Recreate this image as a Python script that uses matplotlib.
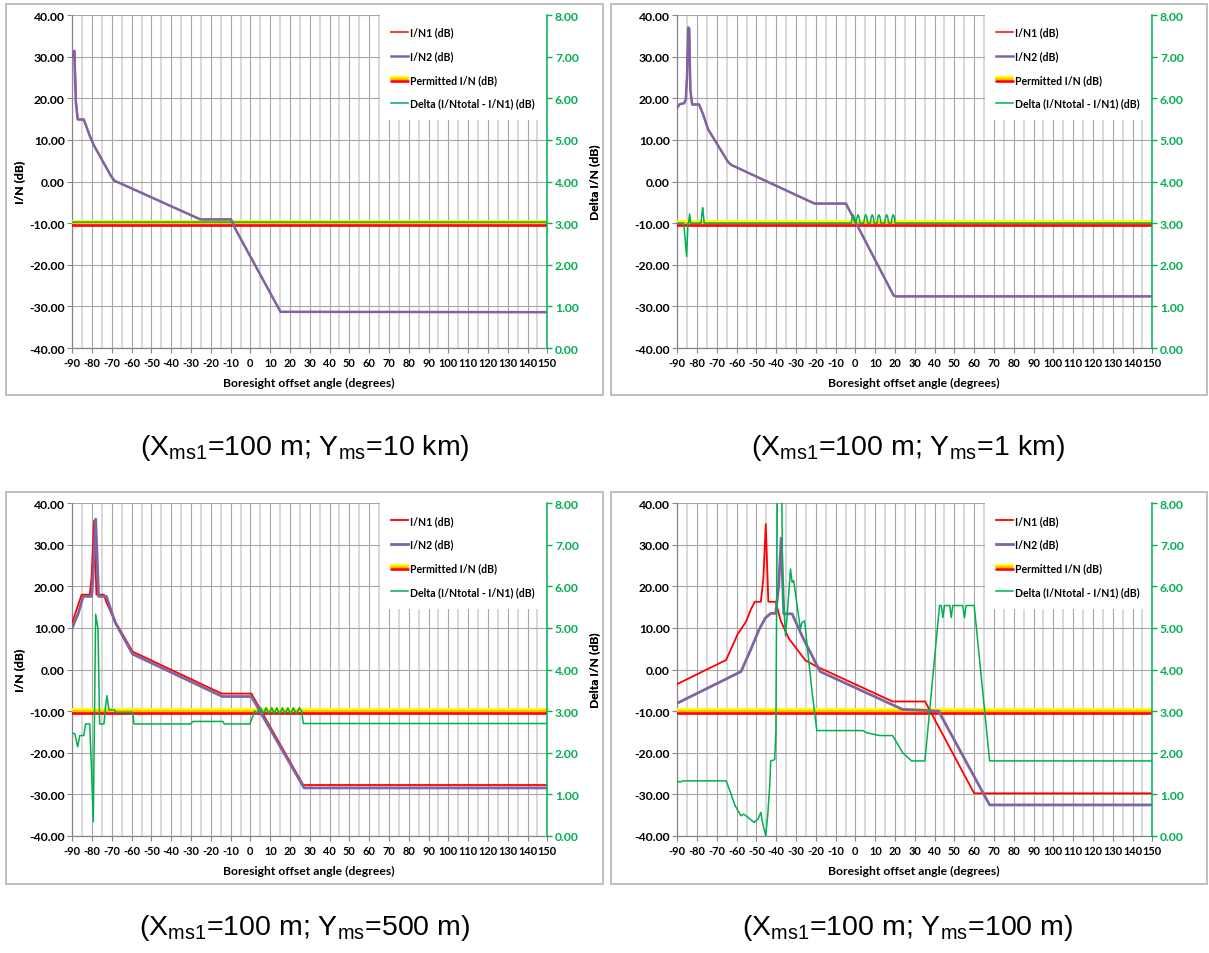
import matplotlib
matplotlib.use("Agg")
import matplotlib.pyplot as plt
from matplotlib.lines import Line2D
from matplotlib.legend_handler import HandlerBase
from matplotlib.patches import Rectangle

# ---------------- data ----------------
x_ticks = list(range(-90, 151, 10))
left_ticks = list(range(-40, 41, 10))
right_ticks = list(range(0, 9))
permitted_level = -10.0

captions = [
    r"(X$_{\mathregular{ms1}}$=100 m; Y$_{\mathregular{ms}}$=10 km)",
    r"(X$_{\mathregular{ms1}}$=100 m; Y$_{\mathregular{ms}}$=1 km)",
    r"(X$_{\mathregular{ms1}}$=100 m; Y$_{\mathregular{ms}}$=500 m)",
    r"(X$_{\mathregular{ms1}}$=100 m; Y$_{\mathregular{ms}}$=100 m)",
]

# Panel A : Yms = 10 km
a_n1 = [(-90, 30.0), (-88.8, 31.2), (-88.4, 26.0), (-88.0, 19.0), (-87.1, 14.9), (-84.2, 14.9),
        (-81.2, 11.0), (-79.0, 8.6), (-70.3, 1.2), (-68.7, 0.2), (-25.3, -9.1), (-9.8, -9.1),
        (-7.5, -11.5), (15.2, -31.3), (150, -31.4)]
a_n2 = [(-90, 30.2), (-89.0, 31.4), (-88.6, 24.0), (-88.2, 19.0), (-87.3, 14.9), (-84.2, 14.9),
        (-81.2, 11.0), (-79.0, 8.6), (-70.3, 1.2), (-68.7, 0.2), (-25.3, -9.1), (-9.8, -9.1),
        (-7.5, -11.5), (15.2, -31.3), (150, -31.4)]
a_delta = [(-90, 3.03), (150, 3.03)]

# Panel B : Yms = 1 km
b_n1 = [(-90, 17.8), (-88.7, 18.6), (-86.5, 18.8), (-85.7, 19.8), (-85.1, 26.0), (-84.4, 36.8),
        (-83.9, 36.6), (-83.3, 22.0), (-82.5, 18.5), (-79.0, 18.5), (-77.0, 16.2), (-74.5, 12.6),
        (-64.5, 4.8), (-62.8, 4.0), (-20.7, -5.3), (-4.8, -5.3), (19.3, -27.4), (20.5, -27.6),
        (150, -27.6)]
b_n2 = [(-90, 17.8), (-88.7, 18.6), (-86.5, 18.8), (-85.7, 19.8), (-85.1, 25.0), (-84.5, 37.0),
        (-84.0, 36.8), (-83.4, 22.0), (-82.5, 18.5), (-79.0, 18.5), (-77.0, 16.2), (-74.5, 12.6),
        (-64.5, 4.8), (-62.8, 4.0), (-20.7, -5.3), (-4.8, -5.3), (19.3, -27.4), (20.5, -27.6),
        (150, -27.6)]
b_delta = [(-90, 3.0), (-86.8, 3.0), (-86.0, 2.6), (-85.3, 2.2), (-84.6, 3.0), (-84.3, 3.0),
           (-83.8, 3.22), (-83.2, 3.0), (-78.0, 3.0), (-77.5, 3.25), (-77.2, 3.37), (-76.9, 3.25),
           (-76.4, 3.0), (-2.1, 3.0), (-1.6, 3.15), (-1.1, 3.2), (-0.6, 3.12), (-0.1, 3.0),
           (0.4, 3.05), (0.9, 3.15), (1.3, 3.2), (1.8, 3.15), (2.3, 3.0), (2.8, 3.0),
           (4.2, 3.0), (4.7, 3.15), (5.2, 3.2), (5.7, 3.15), (6.2, 3.0),
           (7.5, 3.0), (8.0, 3.15), (8.5, 3.2), (9.0, 3.15), (9.5, 3.0),
           (10.9, 3.0), (11.4, 3.15), (11.9, 3.2), (12.4, 3.15), (12.9, 3.0),
           (14.8, 3.0), (15.3, 3.15), (15.8, 3.2), (16.3, 3.15), (16.8, 3.0),
           (18.1, 3.0), (18.6, 3.15), (19.1, 3.2), (19.6, 3.15), (20.1, 3.0), (150, 3.0)]

# Panel C : Yms = 500 m
c_n1 = [(-90, 11.4), (-85.3, 18.0), (-81.2, 18.0), (-80.3, 22.0), (-79.0, 35.8), (-77.8, 18.0),
        (-74.0, 18.0), (-72.8, 16.2), (-68.3, 11.5), (-59.5, 4.3), (-14.5, -5.8), (0.5, -5.8),
        (26.7, -27.8), (150, -27.8)]
c_n2 = [(-90, 10.1), (-87.0, 13.5), (-84.5, 17.6), (-80.2, 17.6), (-79.3, 24.0), (-78.2, 36.2),
        (-76.7, 17.6), (-72.8, 17.6), (-68.3, 11.3), (-59.5, 3.7), (-14.2, -6.5), (0.5, -6.5),
        (27.1, -28.5), (150, -28.5)]
c_delta = [(-90, 2.47), (-88.7, 2.45), (-87.3, 2.14), (-86.2, 2.41), (-84.2, 2.41), (-83.3, 2.69),
           (-81.2, 2.69), (-80.3, 1.6), (-79.4, 0.34), (-78.2, 5.33), (-77.0, 4.97), (-76.2, 2.69),
           (-74.0, 2.69), (-73.2, 3.1), (-72.5, 3.37), (-71.5, 3.03), (-68.7, 3.03), (-68.0, 2.97),
           (-59.5, 2.97), (-58.8, 2.69), (-30.3, 2.69), (-29.0, 2.75), (-14.0, 2.75), (-13.2, 2.69),
           (-0.3, 2.69), (1.3, 2.89), (2.2, 3.0), (3.2, 2.95), (4.0, 3.0), (5.2, 3.08), (6.5, 2.93),
           (7.9, 3.08), (9.3, 2.93), (10.8, 3.08), (12.0, 2.93), (13.3, 3.08), (14.7, 2.93),
           (16.1, 3.08), (17.5, 2.93), (18.9, 3.08), (20.3, 2.93), (21.7, 3.08), (23.2, 2.93),
           (24.7, 3.08), (25.9, 3.0), (26.7, 2.70), (150, 2.70)]

# Panel D : Yms = 100 m
d_n1 = [(-90, -3.5), (-65.3, 2.3), (-62.8, 5.0), (-59.5, 8.5), (-55.3, 11.5), (-52.8, 14.5),
        (-50.8, 16.3), (-47.8, 16.3), (-46.5, 22.0), (-45.3, 35.0), (-44.0, 16.3), (-40.3, 16.3),
        (-37.8, 11.8), (-33.7, 7.5), (-25.3, 2.2), (-19.5, 0.7), (18.8, -7.7), (35.2, -7.7),
        (60.0, -29.8), (150, -29.8)]
d_n2 = [(-90, -8.1), (-57.8, -0.5), (-52.8, 4.9), (-48.7, 9.6), (-45.5, 12.4), (-42.8, 13.5),
        (-40.3, 13.5), (-38.8, 20.0), (-37.5, 31.6), (-36.2, 13.4), (-32.0, 13.4), (-26.2, 7.3),
        (-17.8, -0.5), (23.8, -9.6), (42.0, -10.0), (67.8, -32.6), (150, -32.6)]
d_delta = [(-90, 1.31), (-88.5, 1.29), (-87.3, 1.32), (-65.3, 1.32), (-62.8, 1.0), (-60.8, 0.72),
           (-57.8, 0.48), (-56.5, 0.52), (-54.8, 0.46), (-51.2, 0.32), (-49.2, 0.4), (-47.8, 0.56),
           (-46.8, 0.28), (-45.3, 0.0), (-44.3, 0.5), (-43.3, 1.2), (-42.8, 1.8), (-40.8, 1.83),
           (-40.2, 2.5), (-39.3, 9.5), (-37.5, 9.8), (-36.8, 6.0), (-35.3, 4.81), (-34.5, 5.3),
           (-32.8, 6.42), (-32.0, 6.1), (-31.2, 6.14), (-27.8, 4.97), (-27.0, 5.13), (-25.7, 5.17),
           (-22.0, 3.5), (-19.5, 2.53), (3.8, 2.53), (5.5, 2.48), (12.2, 2.41), (18.8, 2.41),
           (23.8, 2.0), (28.4, 1.8), (35.1, 1.8), (42.5, 5.54), (43.4, 5.54), (44.2, 5.25),
           (45.0, 5.54), (47.7, 5.54), (48.4, 5.25), (49.2, 5.54), (54.2, 5.54), (55.1, 5.25),
           (55.9, 5.54), (60.0, 5.54), (67.8, 1.8), (150, 1.8)]

panels = [(a_n1, a_n2, a_delta), (b_n1, b_n2, b_delta), (c_n1, c_n2, c_delta), (d_n1, d_n2, d_delta)]

# ---------------- styling ----------------
W, H = 1209, 954
FONT = "Lato"
RED = "#ff0000"
PURPLE = "#8064a2"
GREEN = "#00b050"
GRID_MAJ = "#a6a6a6"
GRID_MIN = "#d9d9d9"
AXCOL = "#868686"
FS = 8.7
FSX = 7.9

plt.rcParams["mathtext.fontset"] = "custom"
plt.rcParams["mathtext.rm"] = "Liberation Sans"

fig = plt.figure(figsize=(W / 100, H / 100), dpi=100)

# panel frames (pixels): x0, y0, x1, y1
frames = [(5.5, 5, 603, 396), (611, 5, 1207, 396), (5.5, 493, 603, 885), (611, 493, 1207, 885)]
for (x0, y0, x1, y1) in frames:
    fig.patches.append(Rectangle((x0 / W, 1 - y1 / H), (x1 - x0) / W, (y1 - y0) / H,
                                 transform=fig.transFigure, fill=False,
                                 edgecolor="#bfbfbf", lw=1.4, zorder=0))

plot_boxes = [(72.3, 16, 547.3, 349), (677.3, 16, 1152.3, 349),
              (72.3, 504.3, 547.3, 836.7), (677.3, 504.3, 1152.3, 836.7)]
caption_pos = [(305, 448), (908, 448), (305, 928), (908, 928)]


class StackHandler(HandlerBase):
    def create_artists(self, legend, orig_handle, xdescent, ydescent, width, height, fontsize, trans):
        arts = []
        yc = height / 2 - ydescent
        for dy, c, lw in [(1.6, "#ffff00", 1.6), (0.2, "#ffc000", 1.6), (-1.2, "#ff0000", 1.9)]:
            ln = Line2D([-xdescent, -xdescent + width], [yc + dy, yc + dy], color=c, lw=lw,
                        solid_capstyle="round", transform=trans)
            arts.append(ln)
        return arts


for i, (n1, n2, delta) in enumerate(panels):
    x0, y0, x1, y1 = plot_boxes[i]
    ax = fig.add_axes([x0 / W, 1 - y1 / H, (x1 - x0) / W, (y1 - y0) / H])
    ax.set_xlim(-90, 150)
    ax.set_ylim(-40, 40)
    ax.set_xticks(x_ticks)
    ax.set_xticks(list(range(-85, 150, 10)), minor=True)
    ax.set_yticks(left_ticks)
    ax.set_xticklabels([str(v) for v in x_ticks])
    ax.set_yticklabels([f"{v:.2f}" for v in left_ticks])
    ax.grid(True, which="major", axis="both", color=GRID_MAJ, lw=0.8, zorder=0)
    ax.grid(True, which="minor", axis="x", color=GRID_MIN, lw=1.4, zorder=0)
    ax.set_axisbelow(True)
    for s in ["top", "right"]:
        ax.spines[s].set_visible(False)
    for s in ["left", "bottom"]:
        ax.spines[s].set_color(AXCOL)
        ax.spines[s].set_linewidth(0.9)
    ax.tick_params(axis="both", which="major", direction="out", length=3.5, width=0.8,
                   color=AXCOL, pad=2)
    ax.tick_params(axis="y", labelsize=FS)
    ax.tick_params(axis="x", labelsize=FSX, pad=3)
    ax.tick_params(axis="x", which="minor", length=0)
    for lab in ax.get_xticklabels() + ax.get_yticklabels():
        lab.set_fontfamily(FONT)
        lab.set_fontweight("bold")

    # permitted I/N band
    ax.axhline(permitted_level + 0.42, color="#ffff00", lw=1.5, zorder=3)
    ax.axhline(permitted_level - 0.05, color="#ffc000", lw=1.5, zorder=3)
    ax.axhline(permitted_level - 0.5, color="#ff0000", lw=1.9, zorder=3)

    lw_red = 1.1 if i < 2 else 1.3
    lw_pur = 1.8 if i < 2 else 2.0
    l1, = ax.plot([p[0] for p in n1], [p[1] for p in n1], color=RED, lw=lw_red, zorder=4)
    l2, = ax.plot([p[0] for p in n2], [p[1] for p in n2], color=PURPLE, lw=lw_pur, zorder=5)

    ax.set_ylabel("I/N (dB)", fontfamily=FONT, fontweight="bold", fontsize=FS)
    ax.yaxis.set_label_coords((25 - x0) / (x1 - x0), 0.5)
    ax.set_xlabel("Boresight offset angle (degrees)", fontfamily=FONT, fontweight="bold", fontsize=FS)
    ax.xaxis.set_label_coords(0.498, -29 / (y1 - y0))

    ax2 = ax.twinx()
    ax2.set_ylim(0, 8)
    ax2.set_yticks(right_ticks)
    ax2.set_yticklabels([f"{v:.2f}" for v in right_ticks])
    for s in ["top", "left", "bottom"]:
        ax2.spines[s].set_visible(False)
    ax2.spines["right"].set_color(GREEN)
    ax2.spines["right"].set_linewidth(1.1)
    ax2.spines["right"].set_zorder(12)
    ax2.tick_params(axis="y", direction="out", length=3.5, width=1.0, color=GREEN,
                    labelcolor=GREEN, labelsize=FS, pad=2)
    for lab in ax2.get_yticklabels():
        lab.set_fontfamily(FONT)
        lab.set_fontweight("bold")
    l4, = ax2.plot([p[0] for p in delta], [p[1] for p in delta], color=GREEN, lw=1.1, zorder=6)
    ax2.set_ylabel("Delta I/N (dB)", fontfamily=FONT, fontweight="bold", fontsize=FS)
    ax2.yaxis.set_label_coords((589 - x0) / (x1 - x0), 0.5)

    perm = Line2D([], [], color="#ff0000")
    leg = ax2.legend([l1, l2, perm, l4],
                     ["I/N1 (dB)", "I/N2 (dB)", "Permitted I/N (dB)", "Delta (I/Ntotal - I/N1) (dB)"],
                     handler_map={perm: StackHandler()},
                     loc="upper right", bbox_to_anchor=(0.997, 1.0), borderaxespad=0.0,
                     frameon=True, fancybox=False, facecolor="white", edgecolor="none",
                     framealpha=1.0, handlelength=1.6, handletextpad=0.15, labelspacing=1.2,
                     borderpad=1.1, prop={"family": FONT, "weight": "bold", "size": 7.6})
    leg.set_zorder(10)

    cx, cy = caption_pos[i]
    fig.text(cx / W, 1 - cy / H, captions[i], ha="center", va="center",
             fontsize=20.5, fontfamily="Liberation Sans", color="black")

fig.savefig("out.png", dpi=100)
